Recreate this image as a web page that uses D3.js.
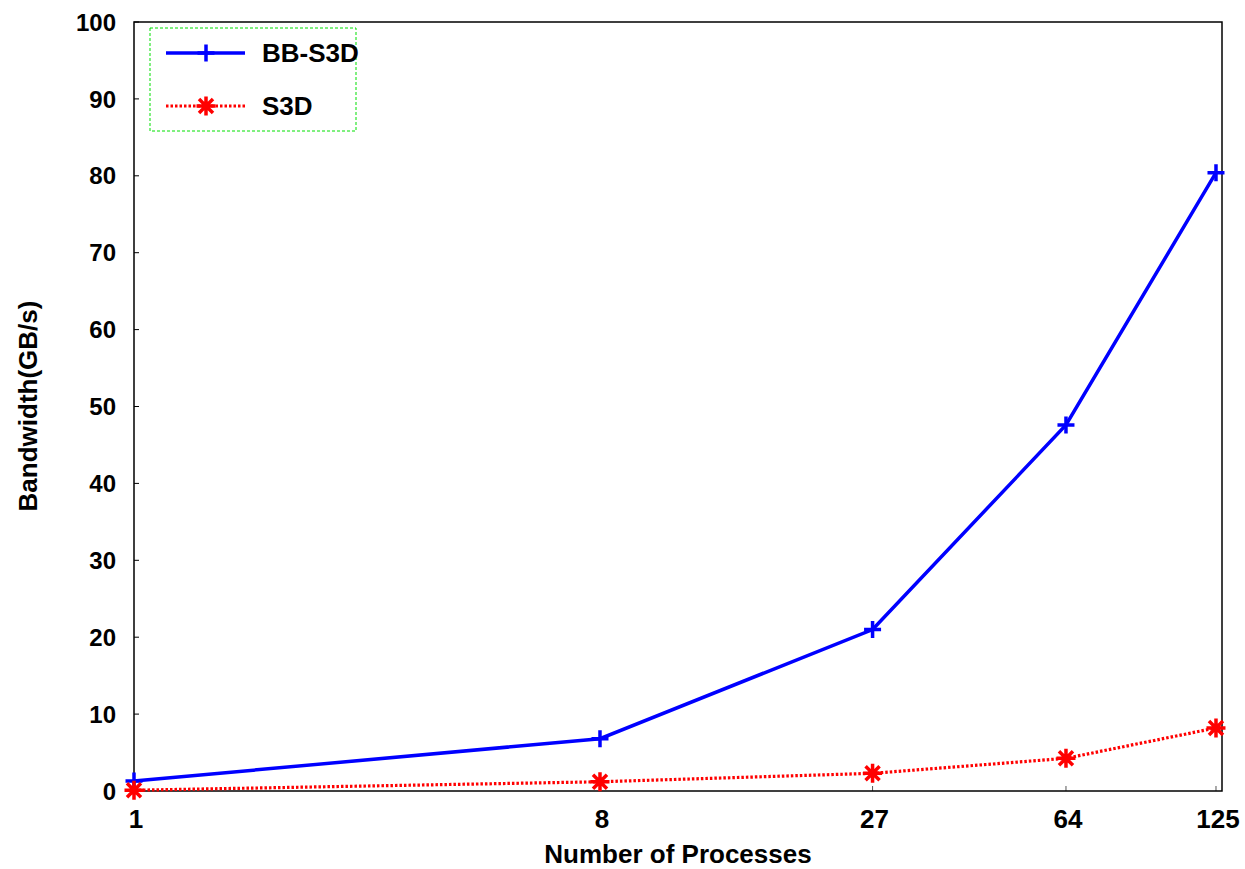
<!DOCTYPE html>
<meta charset="utf-8">
<style>
body { margin: 0; background: #fff; }
svg { display: block; }
text { font-family: "Liberation Sans", Arial, sans-serif; font-weight: bold; fill: #000; }
</style>
<svg width="1245" height="869"></svg>
<script src="https://d3js.org/d3.v7.min.js"></script>
<script>
// data
var procs = [1, 8, 27, 64, 125];
var bbS3D = [1.3, 6.8, 21.0, 47.6, 80.4];
var s3d   = [0.1, 1.2, 2.3, 4.25, 8.2];
var yTicks = [0, 10, 20, 30, 40, 50, 60, 70, 80, 90, 100];

var svg = d3.select("svg");
var mLeft = 134, mRight = 1222, mTop = 22, mBottom = 791;

var x = d3.scaleLog().domain([1, 128.4]).range([mLeft, mRight]);
var y = d3.scaleLinear().domain([0, 100]).range([mBottom, mTop]);

// y ticks (inside) + labels
svg.selectAll(".ytick").data(yTicks).enter().append("line")
    .attr("x1", mLeft).attr("x2", mLeft + 5)
    .attr("y1", function(d) { return y(d); }).attr("y2", function(d) { return y(d); })
    .attr("stroke", "#000").attr("stroke-width", 1);
svg.selectAll(".ylab").data(yTicks).enter().append("text")
    .attr("x", mLeft - 18).attr("y", function(d) { return y(d); })
    .attr("dy", "0.36em").attr("text-anchor", "end")
    .style("font-size", "24px")
    .text(function(d) { return d; });

// x ticks + labels
svg.selectAll(".xtick").data(procs).enter().append("line")
    .attr("x1", function(d) { return x(d); }).attr("x2", function(d) { return x(d); })
    .attr("y1", mBottom).attr("y2", mBottom - 5)
    .attr("stroke", "#555").attr("stroke-width", 1);
svg.selectAll(".xlab").data(procs).enter().append("text")
    .attr("x", function(d) { return x(d) + 2; }).attr("y", 828)
    .attr("text-anchor", "middle")
    .style("font-size", "26px")
    .text(function(d) { return d; });

// frame
svg.append("rect")
    .attr("x", mLeft).attr("y", mTop)
    .attr("width", mRight - mLeft).attr("height", mBottom - mTop)
    .attr("fill", "none").attr("stroke", "#000").attr("stroke-width", 1.5);

// axis titles
svg.append("text")
    .attr("x", 678).attr("y", 863)
    .attr("text-anchor", "middle").style("font-size", "26px")
    .text("Number of Processes");
svg.append("text")
    .attr("transform", "translate(37,406) rotate(-90)")
    .attr("text-anchor", "middle").style("font-size", "26px")
    .text("Bandwidth(GB/s)");

var line = d3.line()
    .x(function(d) { return x(d[0]); })
    .y(function(d) { return y(d[1]); });

var bbData = d3.zip(procs, bbS3D);
var s3dData = d3.zip(procs, s3d);

function plus(g, cx, cy, color) {
    var r = 8.5;
    var p = "M" + (cx - r) + "," + cy + "h" + (2 * r) + "M" + cx + "," + (cy - r) + "v" + (2 * r);
    g.append("path").attr("d", p).attr("stroke", color).attr("stroke-width", 3.5).attr("fill", "none");
}
function star(g, cx, cy, color) {
    var r = 9.5, d = 7;
    var p = "M" + (cx - r) + "," + cy + "h" + (2 * r) +
            "M" + cx + "," + (cy - r) + "v" + (2 * r) +
            "M" + (cx - d) + "," + (cy - d) + "l" + (2 * d) + "," + (2 * d) +
            "M" + (cx - d) + "," + (cy + d) + "l" + (2 * d) + "," + (-2 * d);
    g.append("path").attr("d", p).attr("stroke", color).attr("stroke-width", 3.5).attr("fill", "none");
}

var plot = svg.append("g");
plot.append("path").datum(s3dData)
    .attr("d", line).attr("fill", "none")
    .attr("stroke", "#ff0000").attr("stroke-width", 3.2)
    .attr("stroke-dasharray", "2.5,2");
plot.append("path").datum(bbData)
    .attr("d", line).attr("fill", "none")
    .attr("stroke", "#0000ff").attr("stroke-width", 3.5);
bbData.forEach(function(d) { plus(plot, x(d[0]), y(d[1]), "#0000ff"); });
s3dData.forEach(function(d) { star(plot, x(d[0]), y(d[1]), "#ff0000"); });

// legend
var lg = svg.append("g");
lg.append("rect")
    .attr("x", 150).attr("y", 28).attr("width", 206).attr("height", 103)
    .attr("fill", "#fff").attr("stroke", "#00e000").attr("stroke-width", 1)
    .attr("stroke-dasharray", "3,2");
lg.append("line").attr("x1", 166).attr("x2", 245).attr("y1", 53).attr("y2", 53)
    .attr("stroke", "#0000ff").attr("stroke-width", 3.5);
plus(lg, 206, 53, "#0000ff");
lg.append("line").attr("x1", 166).attr("x2", 245).attr("y1", 106).attr("y2", 106)
    .attr("stroke", "#ff0000").attr("stroke-width", 3.2).attr("stroke-dasharray", "2.5,2");
star(lg, 206, 106, "#ff0000");
lg.append("text").attr("x", 262).attr("y", 53).attr("dy", "0.36em")
    .style("font-size", "26px").text("BB-S3D");
lg.append("text").attr("x", 262).attr("y", 106).attr("dy", "0.36em")
    .style("font-size", "26px").text("S3D");
</script>
